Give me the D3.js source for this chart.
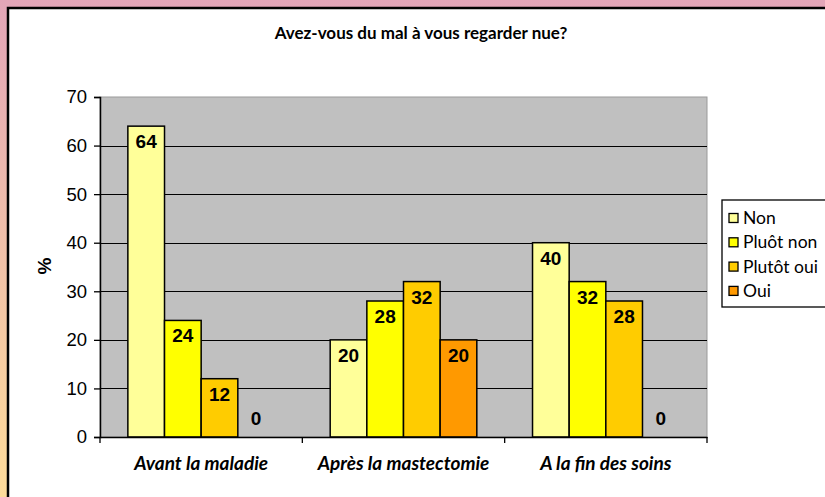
<!DOCTYPE html>
<html><head><meta charset="utf-8">
<script src="https://cdn.jsdelivr.net/npm/d3@7/dist/d3.min.js"></script>
<style>html,body{margin:0;padding:0;overflow:hidden;}svg{display:block;}</style>
</head><body>
<script>
const categories = ["Avant la maladie", "Après la mastectomie", "A la fin des soins"];
const seriesNames = ["Non", "Pluôt non", "Plutôt oui", "Oui"];
const seriesValues = [
  [64, 20, 40],
  [24, 28, 32],
  [12, 32, 28],
  [0, 20, 0]
];
const seriesColors = ["#ffff99", "#ffff00", "#ffcc00", "#ff9900"];
const yTicks = [0, 10, 20, 30, 40, 50, 60, 70];
const title = "Avez-vous du mal à vous regarder nue?";
const yLabel = "%";

const W = 825, H = 497;
const svg = d3.select("body").append("svg").attr("width", W).attr("height", H);
const defs = svg.append("defs");
const grad = defs.append("linearGradient").attr("id", "bg").attr("x1", 0).attr("y1", 0).attr("x2", 0).attr("y2", 1);
grad.append("stop").attr("offset", "0%").attr("stop-color", "#e3a5b8");
grad.append("stop").attr("offset", "100%").attr("stop-color", "#fedc9a");
svg.append("rect").attr("width", W).attr("height", H).attr("fill", "url(#bg)");
svg.append("rect").attr("x", 8).attr("y", 8).attr("width", W).attr("height", H)
  .attr("fill", "#fff").attr("stroke", "#000").attr("stroke-width", 2.5);

const m = {left: 100, right: 707, top: 97, bottom: 437};
const x0 = d3.scaleBand().domain(categories).range([m.left, m.right]).paddingInner(0).paddingOuter(0);
const x1 = d3.scaleBand().domain(seriesNames).range([0, x0.bandwidth()]).paddingInner(0).paddingOuter(0.76);
const y = d3.scaleLinear().domain([0, 70]).range([m.bottom, m.top]);

// plot area
svg.append("rect").attr("x", m.left).attr("y", m.top).attr("width", m.right - m.left).attr("height", m.bottom - m.top)
  .attr("fill", "#c0c0c0").attr("stroke", "#9a9a9a").attr("stroke-width", 1);

// gridlines
svg.append("g").selectAll("line").data(yTicks.filter(d => d > 0 && d < 70)).join("line")
  .attr("x1", m.left).attr("x2", m.right)
  .attr("y1", d => Math.round(y(d)) + 0.5).attr("y2", d => Math.round(y(d)) + 0.5)
  .attr("stroke", "#000").attr("stroke-width", 1);

// bars
const barData = [];
seriesNames.forEach((s, si) => categories.forEach((c, ci) => barData.push({s, si, c, v: seriesValues[si][ci]})));
svg.append("g").selectAll("rect").data(barData.filter(d => d.v > 0)).join("rect")
  .attr("x", d => x0(d.c) + x1(d.s))
  .attr("y", d => y(d.v))
  .attr("width", x1.bandwidth())
  .attr("height", d => y(0) - y(d.v))
  .attr("fill", d => seriesColors[d.si])
  .attr("stroke", "#000").attr("stroke-width", 1.5);

// labels
svg.append("g").selectAll("text").data(barData).join("text")
  .attr("x", d => x0(d.c) + x1(d.s) + x1.bandwidth() / 2)
  .attr("y", d => d.v > 0 ? y(d.v) + 22 : y(0) - 12)
  .attr("text-anchor", "middle")
  .attr("font-family", "Liberation Sans, Arial, sans-serif")
  .attr("font-weight", "bold").attr("font-size", 19)
  .text(d => d.v);

// y axis
const yAxis = svg.append("g").attr("transform", `translate(${m.left},0)`)
  .call(d3.axisLeft(y).tickValues(yTicks).tickSize(6).tickPadding(7));
yAxis.select(".domain").attr("stroke", "#000").attr("stroke-width", 1.5);
yAxis.selectAll(".tick line").attr("stroke", "#000").attr("stroke-width", 1.3);
yAxis.selectAll("text").attr("font-family", "Liberation Sans, Arial, sans-serif").attr("font-size", 18.5).attr("fill", "#000");

// x axis
const xAxis = svg.append("g").attr("transform", `translate(0,${m.bottom})`)
  .call(d3.axisBottom(x0).tickSize(0).tickPadding(20));
xAxis.select(".domain").attr("stroke", "#000").attr("stroke-width", 1.5);
xAxis.selectAll("text").attr("font-family", "Lato, sans-serif").attr("font-style", "italic")
  .attr("font-weight", "bold").attr("font-size", 19).attr("fill", "#000");
const bounds = categories.map(c => x0(c)).concat([m.right]);
xAxis.selectAll(".sep").data(bounds).join("line").attr("class", "sep")
  .attr("x1", d => d).attr("x2", d => d).attr("y1", 0).attr("y2", 6)
  .attr("stroke", "#000").attr("stroke-width", 1.3);

// y label
svg.append("text").attr("transform", "translate(51,266) rotate(-90)")
  .attr("text-anchor", "middle").attr("font-family", "Liberation Sans, Arial, sans-serif")
  .attr("font-weight", "bold").attr("font-size", 19).text(yLabel);

// title
svg.append("text").attr("x", 421).attr("y", 39).attr("text-anchor", "middle")
  .attr("font-family", "Lato, sans-serif").attr("font-weight", "bold").attr("font-size", 17).text(title);

// legend
const lg = svg.append("g").attr("transform", "translate(722,200)");
lg.append("rect").attr("x", 0).attr("y", 0).attr("width", 120).attr("height", 107)
  .attr("fill", "#fff").attr("stroke", "#000").attr("stroke-width", 1.3);
const li = lg.selectAll("g").data(seriesNames).join("g")
  .attr("transform", (d, i) => `translate(7,${18 + i * 24.3})`);
li.append("rect").attr("x", 0).attr("y", -4.5).attr("width", 9).attr("height", 9)
  .attr("fill", (d, i) => seriesColors[i]).attr("stroke", "#000").attr("stroke-width", 1.3);
li.append("text").attr("x", 14).attr("y", 0).attr("dy", "0.35em").attr("font-family", "Lato, sans-serif")
  .attr("font-size", 17.5).text(d => d);
</script>
</body></html>
